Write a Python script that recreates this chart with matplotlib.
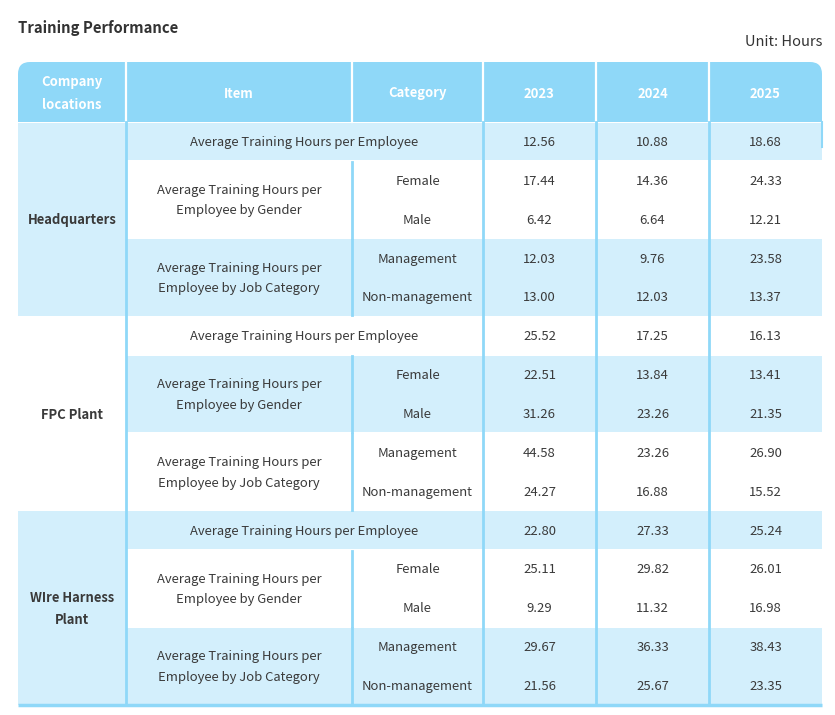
import matplotlib
matplotlib.use("Agg")
import matplotlib.pyplot as plt
from matplotlib.patches import Rectangle, FancyBboxPatch

plt.rcParams['font.family'] = ['Noto Sans CJK TC', 'DejaVu Sans']

title = "Training Performance"
unit = "Unit: Hours"
headers = ["Company\nlocations", "Item", "Category", "2023", "2024", "2025"]
locations = ["Headquarters", "FPC Plant", "WIre Harness\nPlant"]
item_overall = "Average Training Hours per Employee"
item_gender = "Average Training Hours per\nEmployee by Gender"
item_job = "Average Training Hours per\nEmployee by Job Category"
cat_gender = ["Female", "Male"]
cat_job = ["Management", "Non-management"]

hq_values = [
    [12.56, 10.88, 18.68],
    [17.44, 14.36, 24.33],
    [6.42, 6.64, 12.21],
    [12.03, 9.76, 23.58],
    [13.00, 12.03, 13.37],
]
fpc_values = [
    [25.52, 17.25, 16.13],
    [22.51, 13.84, 13.41],
    [31.26, 23.26, 21.35],
    [44.58, 23.26, 26.90],
    [24.27, 16.88, 15.52],
]
wire_values = [
    [22.80, 27.33, 25.24],
    [25.11, 29.82, 26.01],
    [9.29, 11.32, 16.98],
    [29.67, 36.33, 38.43],
    [21.56, 25.67, 23.35],
]
all_values = [hq_values, fpc_values, wire_values]

W, H = 835, 715
fig = plt.figure(figsize=(W / 100, H / 100), dpi=100)
ax = fig.add_axes([0, 0, 1, 1])
ax.set_xlim(0, W)
ax.set_ylim(H, 0)
ax.axis("off")

HEAD_C = "#8fd8f8"
LIGHT_C = "#d3effc"
LINE_C = "#8fd8f8"
TXT = "#3a3a3a"
FS = 9.4
LS = 1.75
DY = 1.0  # small vertical correction for centred text

cols = [18, 126, 352, 483, 596, 709, 822]
top, head_bot, bot = 62, 122, 705
rh = (bot - head_bot) / 15.0

# title
ax.text(18, 28, title, fontsize=10.7, fontweight="bold", color="#333333", va="center", ha="left")
ax.text(822, 42, unit, fontsize=10.5, color="#333333", va="center", ha="right")

# header with rounded top corners
hdr = FancyBboxPatch((cols[0], top), cols[-1] - cols[0], head_bot - top,
                     boxstyle="round,pad=0,rounding_size=12", fc=HEAD_C, ec="none", zorder=1)
ax.add_patch(hdr)
ax.add_patch(Rectangle((cols[0], top + 20), cols[-1] - cols[0], head_bot - top - 20, fc=HEAD_C, ec="none", zorder=1))
for x in cols[1:-1]:
    ax.plot([x, x], [top + 1, head_bot], color="white", lw=1.6, zorder=2)
for i, h in enumerate(headers):
    cx = (cols[i] + cols[i + 1]) / 2
    ax.text(cx, (top + head_bot) / 2 + DY + 0.5, h, fontsize=FS, fontweight="bold", color="white",
            ha="center", va="center", linespacing=LS, zorder=3)

# body
for g, (loc, vals) in enumerate(zip(locations, all_values)):
    gy0 = head_bot + g * 5 * rh
    # location column
    if g % 2 == 0:
        ax.add_patch(Rectangle((cols[0], gy0 + 0.5), cols[1] - cols[0], 5 * rh - 1, fc=LIGHT_C, ec="none", zorder=1))
    ax.text((cols[0] + cols[1]) / 2, gy0 + 2.5 * rh + DY, loc, fontsize=FS, fontweight="bold", color=TXT,
            ha="center", va="center", linespacing=LS, zorder=3)
    # subgroups: overall (1 row), gender (2 rows), job (2 rows)
    subs = [(0, 1, item_overall, None), (1, 2, item_gender, cat_gender), (3, 2, item_job, cat_job)]
    for s, (r0, n, item, cats) in enumerate(subs):
        k = g * 3 + s
        sy0 = gy0 + r0 * rh
        if k % 2 == 0:
            ax.add_patch(Rectangle((cols[1], sy0 + 0.5), cols[-1] - cols[1], n * rh - 1, fc=LIGHT_C, ec="none", zorder=1))
        if cats is None:
            ax.text((cols[1] + cols[3]) / 2, sy0 + rh / 2 + DY, item, fontsize=FS, color=TXT,
                    ha="center", va="center", zorder=3)
        else:
            ax.text((cols[1] + cols[2]) / 2, sy0 + n * rh / 2 + DY, item, fontsize=FS, color=TXT,
                    ha="center", va="center", linespacing=LS, zorder=3)
            ax.plot([cols[2], cols[2]], [sy0 + 1, sy0 + n * rh - 1], color=LINE_C, lw=2, zorder=2)
            for j, c in enumerate(cats):
                ax.text((cols[2] + cols[3]) / 2, sy0 + (j + 0.5) * rh + DY, c, fontsize=FS, color=TXT,
                        ha="center", va="center", zorder=3)
        for j in range(n):
            row = vals[r0 + j]
            for yi, v in enumerate(row):
                ax.text((cols[3 + yi] + cols[4 + yi]) / 2, sy0 + (j + 0.5) * rh + DY, f"{v:.2f}",
                        fontsize=FS, color=TXT, ha="center", va="center", zorder=3)

# full-height vertical lines
for x in [cols[1], cols[3], cols[4], cols[5]]:
    ax.plot([x, x], [head_bot, bot], color=LINE_C, lw=2, zorder=2)
# small stub at right edge of first row
ax.plot([cols[-1], cols[-1]], [head_bot, head_bot + 25], color=LINE_C, lw=1.5, zorder=2)
# bottom line
ax.plot([cols[0], cols[-1]], [bot, bot], color=LINE_C, lw=2.5, zorder=2, solid_capstyle="butt")

fig.savefig("out.png", dpi=100, facecolor="white")
